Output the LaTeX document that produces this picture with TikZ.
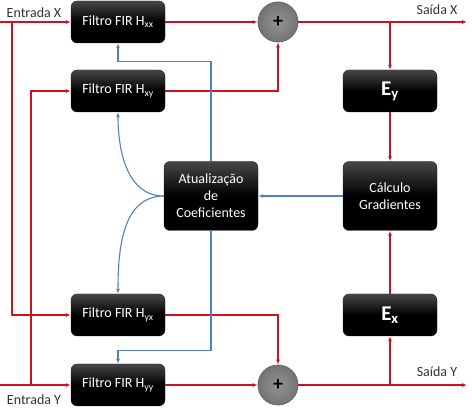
\documentclass[tikz,border=0pt]{standalone}
\usepackage{fontspec}
\setmainfont{Carlito}
\usetikzlibrary{arrows.meta}
\definecolor{sigred}{RGB}{204,18,32}
\definecolor{ctlblue}{RGB}{79,129,189}
\definecolor{addgray}{RGB}{128,128,128}
\tikzset{
  blk/.style={rounded corners=6pt, minimum width=94pt, minimum height=42pt,
    top color=black!72, bottom color=black, middle color=black,
    draw=black!85, text=white, align=center, inner sep=1pt,
    font=\fontsize{14}{17}\selectfont},
  bigblk/.style={blk, minimum height=69pt},
  adder/.style={circle, minimum size=40pt, inner sep=0pt,
    inner color=addgray!85!white, outer color=addgray!90!black,
    draw=black!60, line width=0.8pt, text=black,
    font=\fontsize{20}{20}\selectfont\bfseries},
  sig/.style={draw=sigred, line width=1.1pt, -{Latex[length=5pt,width=4pt]}},
  ctl/.style={draw=ctlblue, line width=1.1pt, -{Latex[length=5pt,width=4pt]}},
  lbl/.style={font=\fontsize{14}{16}\selectfont, text=black!80, inner sep=0pt}
}
\begin{document}
\begin{tikzpicture}[x=1pt, y=-1pt]
\useasboundingbox (0,0) rectangle (472,414);

% filter blocks
\node[blk] (hxx) at (118,22)  {Filtro FIR H\textsubscript{xx}};
\node[blk] (hxy) at (118,91)  {Filtro FIR H\textsubscript{xy}};
\node[blk] (hyx) at (118,315) {Filtro FIR H\textsubscript{yx}};
\node[blk] (hyy) at (118,385) {Filtro FIR H\textsubscript{yy}};

% adaptation and error blocks
\node[bigblk] (atu)  at (211,196) {Atualização\\de\\Coeficientes};
\node[bigblk] (grad) at (390,196) {Cálculo\\Gradientes};
\node[blk, font=\fontsize{21}{21}\selectfont\bfseries] (ey) at (390,91)  {E\textsubscript{y}};
\node[blk, font=\fontsize{21}{21}\selectfont\bfseries] (ex) at (390,315) {E\textsubscript{x}};

% summing junctions
\node[adder] (add1) at (278,22)  {+};
\node[adder] (add2) at (278,385) {+};

% terminals and branch points
\coordinate (inX)  at (0,22);
\coordinate (inY)  at (0,385);
\coordinate (brX)  at (12,22);
\coordinate (brY)  at (31,385);
\coordinate (outX) at (467,22);
\coordinate (outY) at (467,385);
\coordinate (tapX) at (390,22);
\coordinate (tapY) at (390,385);

% labels
\node[lbl] (lInX)  at (34,13)   {Entrada X};
\node[lbl] (lInY)  at (34,400)  {Entrada Y};
\node[lbl] (lOutX) at (437,10)  {Saída X};
\node[lbl] (lOutY) at (437,372) {Saída Y};

% input signals
\draw[sig] (inX) -- (hxx.west);
\draw[sig] (brX) |- (hyx.west);
\draw[sig] (inY) -- (hyy.west);
\draw[sig] (brY) |- (hxy.west);

% filter outputs into the adders
\draw[sig] (hxx.east) -- (add1.west);
\draw[sig] (hxy.east) -| (add1.south);
\draw[sig] (hyy.east) -- (add2.west);
\draw[sig] (hyx.east) -| (add2.north);

% outputs
\draw[sig] (add1.east) -- (outX);
\draw[sig] (add2.east) -- (outY);

% error path
\draw[sig] (tapX) -- (ey.north);
\draw[sig] (ey.south) -- (grad.north);
\draw[sig] (tapY) -- (ex.south);
\draw[sig] (ex.north) -- (grad.south);

% coefficient update
\draw[ctl] (grad.west) -- (atu.east);
\draw[ctl] (atu.north) -- ++(0,-100) -| (hxx.south);
\draw[ctl] (atu.south) -- ++(0,120) -| (hyy.north);
\draw[ctl] (atu.west) to[out=180, in=-90] (hxy.south);
\draw[ctl] (atu.west) to[out=180, in=90] (hyx.north);
\end{tikzpicture}
\end{document}
